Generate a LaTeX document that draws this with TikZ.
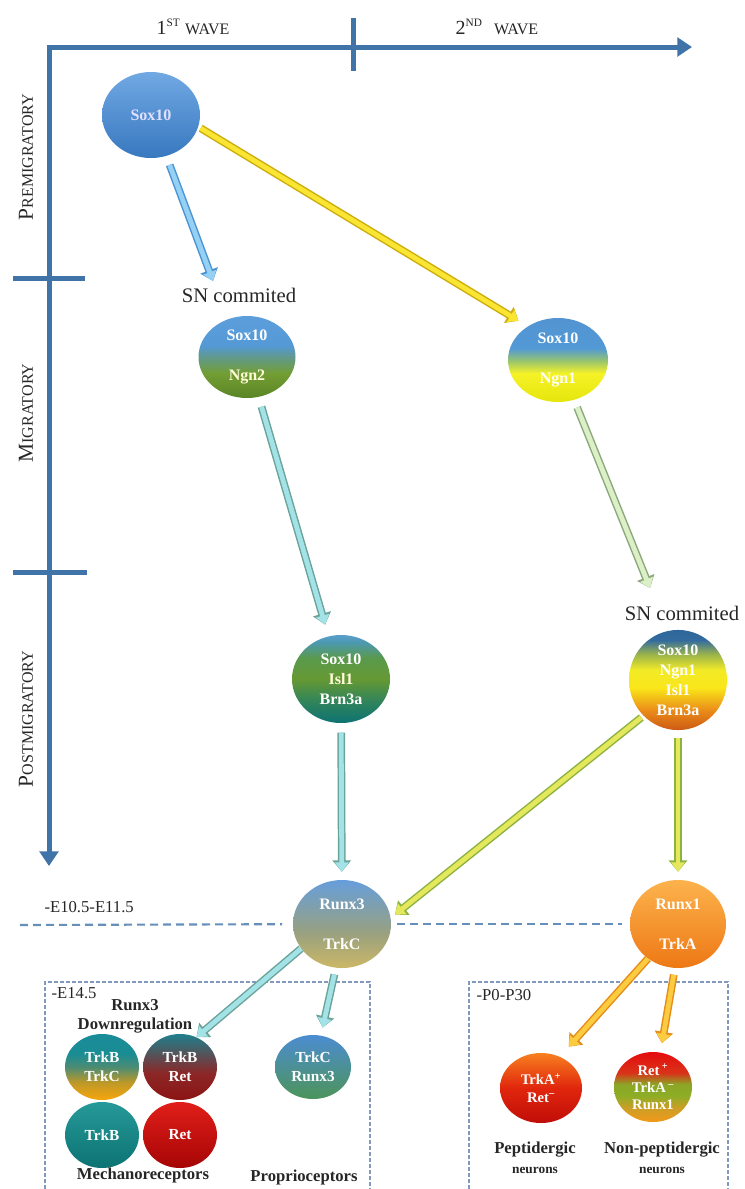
\documentclass[tikz,border=0pt]{standalone}
\usepackage{fontspec}
\setmainfont{Liberation Serif}
\usetikzlibrary{shapes.geometric,arrows.meta}

\definecolor{axisblue}{rgb}{0.25,0.45,0.66}
\definecolor{dashblue}{rgb}{0.40,0.56,0.73}
\definecolor{boxblue}{rgb}{0.50,0.60,0.74}
\definecolor{labgray}{rgb}{0.15,0.15,0.15}
% arrow colours (outline / fill)
\definecolor{aBo}{rgb}{0.30,0.58,0.82}\definecolor{aBi}{rgb}{0.58,0.82,0.96}
\definecolor{aYo}{rgb}{0.80,0.68,0.05}\definecolor{aYi}{rgb}{0.98,0.90,0.20}
\definecolor{aCo}{rgb}{0.42,0.64,0.60}\definecolor{aCi}{rgb}{0.64,0.89,0.91}
\definecolor{aPo}{rgb}{0.55,0.66,0.48}\definecolor{aPi}{rgb}{0.86,0.94,0.78}
\definecolor{aGo}{rgb}{0.55,0.70,0.25}\definecolor{aGi}{rgb}{0.90,0.91,0.36}
\definecolor{aOo}{rgb}{0.90,0.55,0.10}\definecolor{aOi}{rgb}{0.99,0.80,0.25}

% vertical shadings: path bottom = 25bp, path top = 75bp
\pgfdeclareverticalshading{shsox}{100bp}{rgb(0bp)=(0.22,0.47,0.75); rgb(25bp)=(0.22,0.47,0.75); rgb(75bp)=(0.44,0.66,0.89); rgb(100bp)=(0.44,0.66,0.89)}
\pgfdeclareverticalshading{shngntwo}{100bp}{rgb(0bp)=(0.35,0.52,0.15); rgb(25bp)=(0.35,0.52,0.15); rgb(40bp)=(0.45,0.62,0.20); rgb(50bp)=(0.38,0.60,0.55); rgb(57bp)=(0.33,0.60,0.84); rgb(75bp)=(0.36,0.62,0.86); rgb(100bp)=(0.36,0.62,0.86)}
\pgfdeclareverticalshading{shngnone}{100bp}{rgb(0bp)=(0.90,0.90,0.05); rgb(25bp)=(0.90,0.90,0.05); rgb(42bp)=(0.96,0.95,0.15); rgb(50bp)=(0.58,0.76,0.45); rgb(57bp)=(0.32,0.60,0.84); rgb(75bp)=(0.32,0.58,0.82); rgb(100bp)=(0.32,0.58,0.82)}
\pgfdeclareverticalshading{shisl}{100bp}{rgb(0bp)=(0.05,0.45,0.45); rgb(25bp)=(0.05,0.45,0.45); rgb(38bp)=(0.20,0.52,0.35); rgb(50bp)=(0.40,0.60,0.20); rgb(62bp)=(0.35,0.60,0.30); rgb(71bp)=(0.30,0.60,0.70); rgb(75bp)=(0.35,0.62,0.80); rgb(100bp)=(0.35,0.62,0.80)}
\pgfdeclareverticalshading{shbrn}{100bp}{rgb(0bp)=(0.80,0.35,0.08); rgb(25bp)=(0.80,0.35,0.08); rgb(35bp)=(0.92,0.55,0.10); rgb(46bp)=(0.98,0.90,0.10); rgb(55bp)=(0.95,0.92,0.15); rgb(63bp)=(0.60,0.70,0.30); rgb(70bp)=(0.20,0.42,0.62); rgb(75bp)=(0.18,0.40,0.60); rgb(100bp)=(0.18,0.40,0.60)}
\pgfdeclareverticalshading{shrthree}{100bp}{rgb(0bp)=(0.80,0.72,0.40); rgb(25bp)=(0.80,0.72,0.40); rgb(45bp)=(0.60,0.63,0.50); rgb(75bp)=(0.40,0.62,0.86); rgb(100bp)=(0.40,0.62,0.86)}
\pgfdeclareverticalshading{shrone}{100bp}{rgb(0bp)=(0.93,0.47,0.08); rgb(25bp)=(0.93,0.47,0.08); rgb(75bp)=(0.99,0.70,0.30); rgb(100bp)=(0.99,0.70,0.30)}
\pgfdeclareverticalshading{shtbc}{100bp}{rgb(0bp)=(0.97,0.65,0.05); rgb(25bp)=(0.97,0.65,0.05); rgb(38bp)=(0.75,0.60,0.15); rgb(50bp)=(0.30,0.55,0.45); rgb(60bp)=(0.10,0.55,0.58); rgb(75bp)=(0.10,0.55,0.60); rgb(100bp)=(0.10,0.55,0.60)}
\pgfdeclareverticalshading{shtbr}{100bp}{rgb(0bp)=(0.55,0.08,0.08); rgb(25bp)=(0.55,0.08,0.08); rgb(45bp)=(0.55,0.15,0.15); rgb(62bp)=(0.30,0.35,0.38); rgb(75bp)=(0.12,0.50,0.55); rgb(100bp)=(0.12,0.50,0.55)}
\pgfdeclareverticalshading{shtb}{100bp}{rgb(0bp)=(0.05,0.45,0.45); rgb(25bp)=(0.05,0.45,0.45); rgb(75bp)=(0.15,0.60,0.60); rgb(100bp)=(0.15,0.60,0.60)}
\pgfdeclareverticalshading{shret}{100bp}{rgb(0bp)=(0.65,0.02,0.02); rgb(25bp)=(0.65,0.02,0.02); rgb(75bp)=(0.88,0.12,0.10); rgb(100bp)=(0.88,0.12,0.10)}
\pgfdeclareverticalshading{shtcr}{100bp}{rgb(0bp)=(0.30,0.58,0.35); rgb(25bp)=(0.30,0.58,0.35); rgb(75bp)=(0.30,0.55,0.82); rgb(100bp)=(0.30,0.55,0.82)}
\pgfdeclareverticalshading{shtap}{100bp}{rgb(0bp)=(0.75,0.05,0.03); rgb(25bp)=(0.75,0.05,0.03); rgb(50bp)=(0.88,0.15,0.05); rgb(75bp)=(0.97,0.50,0.12); rgb(100bp)=(0.97,0.50,0.12)}
\pgfdeclareverticalshading{shrtr}{100bp}{rgb(0bp)=(0.95,0.60,0.10); rgb(25bp)=(0.95,0.60,0.10); rgb(35bp)=(0.80,0.62,0.15); rgb(44bp)=(0.55,0.68,0.15); rgb(52bp)=(0.55,0.65,0.15); rgb(60bp)=(0.85,0.20,0.10); rgb(75bp)=(0.90,0.05,0.05); rgb(100bp)=(0.90,0.05,0.05)}

\newcommand{\cellfont}{\fontsize{12}{15}\selectfont\bfseries}
\newcommand{\smallcellfont}{\fontsize{11.5}{14.5}\selectfont\bfseries}
\newcommand{\tinycellfont}{\fontsize{11}{13}\selectfont\bfseries}
\newcommand{\fsc}[2]{{\fontsize{16}{16}\selectfont #1}{\fontsize{12}{12}\selectfont #2}}
\newcommand{\wavelab}[3]{{\fontsize{15}{15}\selectfont #1}\raisebox{6pt}{\fontsize{8.5}{8.5}\selectfont #2}\hspace{#3}{\fontsize{12}{12}\selectfont WAVE}}

\tikzset{
  cell/.style={ellipse, inner sep=0pt, align=center, text=white, font=\cellfont},
  smallcell/.style={cell, font=\smallcellfont},
  tinycell/.style={cell, font=\tinycellfont},
  fat/.style 2 args={draw=#2, line width=3.6pt, -{Triangle[length=7pt,width=10pt]},
    preaction={draw=#1, line width=5.8pt, -{Triangle[length=8.5pt,width=13.5pt]}}},
  axisline/.style={draw=axisblue, line width=3.75pt},
  dashline/.style={draw=dashblue, line width=1.6pt, dash pattern=on 6pt off 3.75pt},
  boxline/.style={draw=boxblue, line width=1.6pt, dash pattern=on 3pt off 1.5pt},
  lab/.style={text=labgray, inner sep=1pt},
  blab/.style={text=labgray, inner sep=1pt, font=\fontsize{12.5}{14}\selectfont\bfseries, align=center},
}

\begin{document}
\begin{tikzpicture}[x=0.75pt, y=-0.75pt]
\useasboundingbox (0,0) rectangle (744,1189);

% axes
\coordinate (ax0) at (49,47);
\coordinate (axx) at (692,47);
\coordinate (axy) at (49,866);
\draw[axisline, line join=miter, {Triangle[length=11pt,width=14pt]}-{Triangle[length=11pt,width=14pt]}] (axy) -- (ax0) -- (axx);
\coordinate (tka) at (353,18); \coordinate (tkb) at (353,71);
\coordinate (tkc) at (13,278); \coordinate (tkd) at (85,278);
\coordinate (tke) at (13,572); \coordinate (tkf) at (87,572);
\draw[axisline] (tka) -- (tkb);
\draw[axisline] (tkc) -- (tkd);
\draw[axisline] (tke) -- (tkf);

\node[lab] (w1) at (193,27) {\wavelab{1}{ST}{4pt}};
\node[lab] (w2) at (497,27) {\wavelab{2}{ND}{9pt}};
\node[lab, rotate=90] (lpre) at (26,157) {\fsc{P}{REMIGRATORY}};
\node[lab, rotate=90] (lmig) at (26,413) {\fsc{M}{IGRATORY}};
\node[lab, rotate=90] (lpost) at (26,719) {\fsc{P}{OSTMIGRATORY}};

% boxes
\coordinate (bl1) at (45,1195); \coordinate (bl2) at (45,982);
\coordinate (bl3) at (370,982); \coordinate (bl4) at (370,1195);
\coordinate (br1) at (469,1195); \coordinate (br2) at (469,982);
\coordinate (br3) at (728,982); \coordinate (br4) at (728,1195);
\draw[boxline] (bl1) -- (bl2) -- (bl3) -- (bl4);
\draw[boxline] (br1) -- (br2) -- (br3) -- (br4);

% cells
\node[cell, minimum width=73.5pt, minimum height=64.5pt, shading=shsox, text=white!88!blue] (s0) at (151,115) {Sox10};
\node[lab, font=\fontsize{15.5}{17}\selectfont] (scl) at (239,295) {SN commited};
\node[cell, minimum width=72.75pt, minimum height=61.5pt, shading=shngntwo] (n2) at (247,357) {Sox10\\[15pt]\textcolor{white!85!yellow}{Ngn2}};
\node[cell, minimum width=75pt, minimum height=63pt, shading=shngnone] (n1) at (558,360) {Sox10\\[15pt]Ngn1};
\node[cell, minimum width=73.5pt, minimum height=66pt, shading=shisl] (isl) at (341,679) {Sox10\\\textcolor{white!85!yellow}{Isl1}\\Brn3a};
\node[lab, font=\fontsize{15.5}{17}\selectfont] (scr) at (682,613) {SN commited};
\node[cell, minimum width=73.5pt, minimum height=66pt, shading=shbrn] (brn) at (678,680) {Sox10\\Ngn1\\Isl1\\Brn3a};
\node[cell, minimum width=73.5pt, minimum height=66pt, shading=shrthree] (r3) at (342,924) {Runx3\\[15pt]TrkC};
\node[cell, minimum width=72pt, minimum height=66pt, shading=shrone] (r1) at (678,924) {Runx1\\[15pt]TrkA};

\node[smallcell, minimum width=55.5pt, minimum height=49.5pt, shading=shtbc] (tbc) at (102,1067) {TrkB\\TrkC};
\node[smallcell, minimum width=55.5pt, minimum height=49.5pt, shading=shtbr] (tbr) at (180,1067) {TrkB\\Ret};
\node[smallcell, minimum width=55.5pt, minimum height=49.5pt, shading=shtb] (tb) at (102,1135) {TrkB};
\node[smallcell, minimum width=55.5pt, minimum height=49.5pt, shading=shret] (ret) at (180,1135) {Ret};
\node[smallcell, minimum width=57pt, minimum height=48pt, shading=shtcr] (tcr) at (313,1067) {TrkC\\Runx3};
\node[tinycell, minimum width=61.5pt, minimum height=52.5pt, shading=shtap] (tap) at (541,1088) {TrkA\textsuperscript{+}\\Ret\textsuperscript{--}};
\node[tinycell, minimum width=58.5pt, minimum height=52.5pt, shading=shrtr] (rtr) at (653,1087) {Ret\,\textsuperscript{+}\\TrkA\,\textsuperscript{--}\\Runx1};

% labels
\node[lab, anchor=west, font=\fontsize{12.5}{14}\selectfont] (le1) at (43,907) {-E10.5-E11.5};
\node[lab, anchor=west, font=\fontsize{12.5}{14}\selectfont] (le2) at (50,993) {-E14.5};
\node[lab, anchor=west, font=\fontsize{12.5}{14}\selectfont] (lp0) at (475,995) {-P0-P30};
\node[blab] (ldown) at (135,1016) {Runx3\\Downregulation};
\node[blab] (lmech) at (143,1175) {Mechanoreceptors};
\node[blab] (lprop) at (304,1177) {Proprioceptors};
\node[blab] (lpep) at (535,1150) {Peptidergic};
\node[blab, font=\fontsize{10}{11}\selectfont\bfseries] (lpepn) at (535,1170) {neurons};
\node[blab] (lnon) at (662,1150) {Non-peptidergic};
\node[blab, font=\fontsize{10}{11}\selectfont\bfseries] (lnonn) at (662,1170) {neurons};

% dashed time line
\coordinate (dl0) at (20,925);
\draw[dashline, shorten >=8pt] (dl0) -- (r3);
\draw[dashline, shorten <=4pt, shorten >=6pt] (r3) -- (r1);

% arrows
\coordinate (t1) at (213,281);
\coordinate (t4) at (650,588);
\draw[fat={aBo}{aBi}, shorten <=7pt] (s0) -- (t1);
\draw[fat={aYo}{aYi}, shorten <=2pt, shorten >=8pt] (s0.-14) -- (n1.132);
\draw[fat={aCo}{aCi}, shorten <=7.5pt, shorten >=9pt] (n2) -- (isl);
\draw[fat={aPo}{aPi}, shorten <=6pt] (n1) -- (t4);
\draw[fat={aCo}{aCi}, shorten <=7pt, shorten >=6pt] (isl) -- (r3);
\draw[fat={aGo}{aGi}, shorten <=2pt, shorten >=4pt] (brn.226) -- (r3.7);
\draw[fat={aGo}{aGi}, shorten <=6pt, shorten >=6pt] (brn) -- (r1);
\draw[fat={aCo}{aCi}] (r3.211) -- (tbr.61);
\draw[fat={aCo}{aCi}, shorten <=5pt, shorten >=6pt] (r3.262) -- (tcr.76);
\draw[fat={aOo}{aOi}, shorten >=10pt] (r1.229) -- (tap.59);
\draw[fat={aOo}{aOi}, shorten <=5pt, shorten >=7pt] (r1.266) -- (rtr.78);
\end{tikzpicture}
\end{document}
